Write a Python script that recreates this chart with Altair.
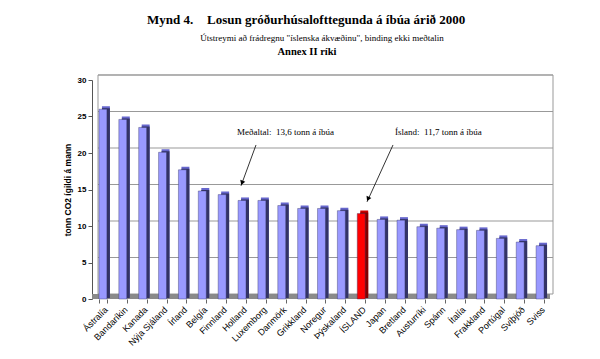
import altair as alt
import pandas as pd

# ---- data ----
countries = ["Ástralía", "Bandaríkin", "Kanada", "Nýja Sjáland", "Írland", "Belgía",
             "Finnland", "Holland", "Luxemborg", "Danmörk", "Grikkland", "Noregur",
             "Þýskaland", "ÍSLAND", "Japan", "Bretland", "Austurríki", "Spánn",
             "Ítalía", "Frakkland", "Portúgal", "Svíþjóð", "Sviss"]
values = [26.0, 24.6, 23.5, 20.1, 17.7, 14.8, 14.3, 13.5, 13.5, 12.8, 12.4, 12.4,
          12.1, 11.7, 10.9, 10.8, 9.9, 9.7, 9.5, 9.4, 8.3, 7.8, 7.3]
groups = ["Ísland" if c == "ÍSLAND" else "Önnur" for c in countries]
y_ticks = [0, 5, 10, 15, 20, 25, 30]

title_main = "Losun gróðurhúsalofttegunda á íbúa árið 2000"
title_fig = "Mynd 4."
subtitle = "Útstreymi að frádregnu \"íslenska ákvæðinu\", binding ekki meðtalin"
subtitle2 = "Annex II ríki"

ann_texts = ["Meðaltal:\u00a0\u00a013,6 tonn á íbúa", "Ísland:\u00a0\u00a011,7 tonn á íbúa"]
ann_text_x = [7.25, 15.15]
ann_text_y = [22.9, 22.9]
arrow_x = [8.2, 15.05]
arrow_y = [21.1, 21.1]
arrow_x2 = [7.45, 13.75]
arrow_y2 = [15.5, 13.3]
head_x = [7.5, 13.8]
head_y = [15.9, 13.7]
head_angle = [200, 204]

df = pd.DataFrame({"land": countries, "verdi": values, "grp": groups})
grid_df = pd.DataFrame({"g": y_ticks[1:]})
one = pd.DataFrame({"k": [0]})
ann_df = pd.DataFrame({"t": ann_texts, "x": ann_text_x, "y": ann_text_y})
arrow_df = pd.DataFrame({"x": arrow_x, "y": arrow_y, "x2": arrow_x2, "y2": arrow_y2})
head_df = pd.DataFrame({"x": head_x, "y": head_y, "a": head_angle})

W, H = 466, 219
SANS = "Liberation Sans"
SERIF = "Liberation Serif"

yscale = alt.Scale(domain=[0, 30], nice=False, zero=True)
yaxis = alt.Axis(values=y_ticks, grid=False, tickSize=4, tickColor="#555",
                 domainColor="#555", labelFont=SANS, labelFontSize=8,
                 labelFontWeight="bold", labelColor="#000", labelPadding=2,
                 title="tonn CO2 ígildi á mann", titleFont=SANS, titleFontSize=8.5,
                 titleFontWeight="bold", titleColor="#000", titlePadding=5)
xscale = alt.Scale(range=[1, 458], paddingInner=0.6, paddingOuter=0.3)
xaxis = alt.Axis(title=None, labelAngle=-45, labelFont=SANS, labelFontSize=9,
                 labelColor="#000", tickBand="extent", domain=False, tickSize=4,
                 tickColor="#666", labelPadding=2, labelOverlap=False)


def X():
    return alt.X("land:N", sort=countries, scale=xscale, axis=xaxis)


def Y(field):
    return alt.Y(field, scale=yscale, axis=yaxis)


def color(isl, other):
    return alt.condition(alt.datum.grp == "Ísland", alt.value(isl), alt.value(other))


wall = alt.Chart(one).mark_rect(fill="white", stroke="#999", strokeWidth=1).encode(
    x=alt.value(6), x2=alt.value(461), y=alt.value(-5), y2=alt.value(214))
grid = alt.Chart(grid_df).mark_rule(color="#999", strokeWidth=1, yOffset=-5).encode(
    y=Y("g:Q"), x=alt.value(6), x2=alt.value(461))
floor = alt.Chart(one).mark_rect(fill="#8a8a8a").encode(
    x=alt.value(0), x2=alt.value(458), y=alt.value(214), y2=alt.value(219))

bar_top = alt.Chart(df).mark_bar(xOffset=3, yOffset=-3).encode(
    x=X(), y=Y("verdi:Q"), color=color("#CC0000", "#6666CC"))
bar_side = alt.Chart(df).mark_bar(xOffset=3, yOffset=-1).encode(
    x=X(), y=Y("verdi:Q"), color=color("#800000", "#333366"))
bar_front = alt.Chart(df).mark_bar(stroke="#333366", strokeWidth=0.4).encode(
    x=X(), y=Y("verdi:Q"), color=color("#FF0000", "#9999FF"))

t1 = alt.Chart(one).mark_text(font=SERIF, fontSize=13, fontWeight="bold", align="left",
                              baseline="alphabetic", color="#000", text=title_fig).encode(
    x=alt.value(55), y=alt.value(-56))
t2 = alt.Chart(one).mark_text(font=SERIF, fontSize=13, fontWeight="bold", align="left",
                              baseline="alphabetic", color="#000", text=title_main).encode(
    x=alt.value(115), y=alt.value(-56))
t3 = alt.Chart(one).mark_text(font=SERIF, fontSize=9, align="center",
                              baseline="alphabetic", color="#000", text=subtitle).encode(
    x=alt.value(230), y=alt.value(-39))
t4 = alt.Chart(one).mark_text(font=SERIF, fontSize=10.5, fontWeight="bold", align="center",
                              baseline="alphabetic", color="#000", text=subtitle2).encode(
    x=alt.value(215), y=alt.value(-25))

base = alt.layer(wall, grid, floor, bar_top, bar_side, bar_front, t1, t2, t3, t4)

axq = alt.Scale(domain=[0, 23.3], nice=False, zero=False)
ann_text = alt.Chart(ann_df).mark_text(font=SERIF, fontSize=9, align="left",
                                       baseline="middle", color="#000").encode(
    x=alt.X("x:Q", scale=axq, axis=None), y=Y("y:Q"), text="t:N")
arrows = alt.Chart(arrow_df).mark_rule(color="#000", strokeWidth=0.8).encode(
    x=alt.X("x:Q", scale=axq, axis=None), y=Y("y:Q"), x2="x2:Q", y2="y2:Q")
heads = alt.Chart(head_df).mark_point(shape="triangle-up", filled=True, size=28,
                                      color="#000", opacity=1).encode(
    x=alt.X("x:Q", scale=axq, axis=None), y=Y("y:Q"), angle=alt.Angle("a:Q", scale=None))
ann = alt.layer(ann_text, arrows, heads)

chart = alt.layer(base, ann).resolve_scale(x="independent").properties(
    width=W, height=H,
    autosize=alt.AutoSizeParams(type="none"),
    padding={"left": 84, "top": 72, "right": 26, "bottom": 52},
    background="white",
).configure_view(stroke=None)

chart.save("out.html", embed_options={"renderer": "svg", "actions": False})
